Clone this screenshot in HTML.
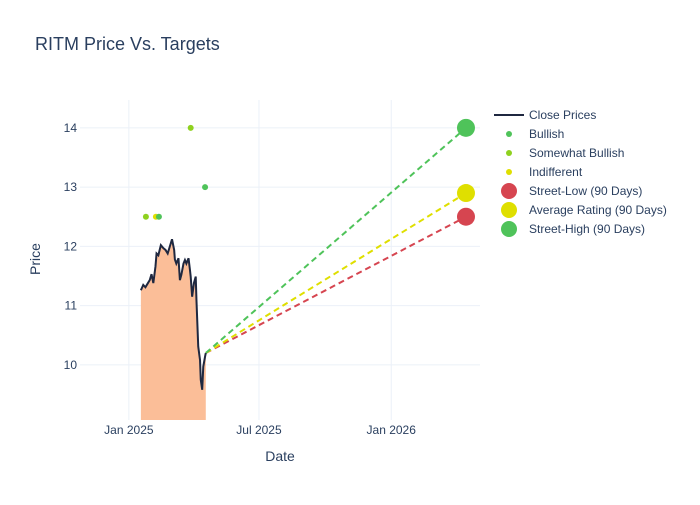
<!DOCTYPE html>
<html><head><meta charset="utf-8"><style>
body{margin:0;background:#fff;font-family:"Liberation Sans",sans-serif}
svg text{font-family:"Liberation Sans",sans-serif;fill:#2a3f5f}
</style></head><body>
<svg id="c" width="700" height="500">
<text x="35" y="50" font-size="18">RITM Price Vs. Targets</text>
</svg>
<script>
const priceDays=[16.7,20,23,26,29,31.5,34,37,38.5,41,44.5,48,51,54,57,60,63,64,66,69,71,73,76,78,80,83,85,86,88,90.5,93,94,96.5,99,100,102,103.5,106,107];
const priceVals=[11.26,11.35,11.31,11.37,11.43,11.53,11.38,11.66,11.88,11.85,12.02,11.97,11.94,11.88,12.0,12.12,11.94,11.78,11.71,11.80,11.43,11.52,11.71,11.77,11.71,11.80,11.60,11.49,11.15,11.38,11.49,11.10,10.31,10.08,9.75,9.58,9.97,10.14,10.2];
const bullishDays=[41.8,106];const bullishVals=[12.5,13];
const swBullDays=[23.7,86];const swBullVals=[12.5,14];
const indiffDays=[37.6];const indiffVals=[12.5];
const targetDay=469;
const targetLabels=["Street-Low (90 Days)","Average Rating (90 Days)","Street-High (90 Days)"];
const targetVals=[12.5,12.9,14.0];
const targetColors=["#d64550","#dfdf00","#4fc35a"];
const yTicks=[10,11,12,13,14];
const xTickDays=[0,181,365];const xTickLabels=["Jan 2025","Jul 2025","Jan 2026"];
const X0=80,X1=480,Y0=100,Y1=420,dmin=-68,dmax=488.5,vmin=9.07,vmax=14.47;
const sx=d=>X0+(d-dmin)/(dmax-dmin)*(X1-X0);
const sy=v=>Y1-(v-vmin)/(vmax-vmin)*(Y1-Y0);
const svg=document.getElementById('c');const NS="http://www.w3.org/2000/svg";
function mk(t,a,p){const e=document.createElementNS(NS,t);for(const k in a)e.setAttribute(k,a[k]);(p||svg).appendChild(e);return e;}
yTicks.forEach(v=>{const l=mk('line',{x1:X0,x2:X1,y1:sy(v),y2:sy(v),stroke:'#ebf0f8'});

const t=mk('text',{x:X0-3,y:sy(v)+4,'text-anchor':'end','font-size':12});t.textContent=v;
});
xTickDays.forEach((d,i)=>{const l=mk('line',{x1:sx(d),x2:sx(d),y1:Y0,y2:Y1,stroke:'#ebf0f8'});

const t=mk('text',{x:sx(d),y:Y1+14,'text-anchor':'middle','font-size':12});t.textContent=xTickLabels[i];
});
let pts=priceDays.map((d,i)=>sx(d)+','+sy(priceVals[i]));
const area=mk('polygon',{points:sx(priceDays[0])+','+Y1+' '+pts.join(' ')+' '+sx(priceDays[priceDays.length-1])+','+Y1,fill:'#fbbe98'});

const ld=priceDays[priceDays.length-1],lv=priceVals[priceVals.length-1];
targetVals.forEach((v,i)=>{const l=mk('line',{x1:sx(ld),y1:sy(lv),x2:sx(targetDay),y2:sy(v),stroke:targetColors[i],'stroke-width':2,'stroke-dasharray':'6,4'});
});
const pl=mk('polyline',{points:pts.join(' '),fill:'none',stroke:'#1f2840','stroke-width':2});

function dots(ds,vs,c,r,name){ds.forEach((d,i)=>{const e=mk('circle',{cx:sx(d),cy:sy(vs[i]),r:r,fill:c});
});}
dots(swBullDays,swBullVals,'#8fd11f',3,'somewhat-bullish-point');
dots(indiffDays,indiffVals,'#dfdf00',3,'indifferent-point');
dots(bullishDays,bullishVals,'#4fc35a',3,'bullish-point');
targetVals.forEach((v,i)=>{const e=mk('circle',{cx:sx(targetDay),cy:sy(v),r:9,fill:targetColors[i]});
});
const xt=mk('text',{x:280,y:461,'text-anchor':'middle','font-size':14});xt.textContent='Date';

const yt=mk('text',{x:40,y:259,'text-anchor':'middle','font-size':14,transform:'rotate(-90 40 259)'});yt.textContent='Price';

const leg=[["line","#1f2840","Close Prices"],["s","#4fc35a","Bullish"],["s","#8fd11f","Somewhat Bullish"],["s","#dfdf00","Indifferent"],["b","#d64550","Street-Low (90 Days)"],["b","#dfdf00","Average Rating (90 Days)"],["b","#4fc35a","Street-High (90 Days)"]];
leg.forEach((e,i)=>{const y=115+i*19;
if(e[0]=="line"){const l=mk('line',{x1:494,x2:524,y1:y,y2:y,stroke:e[1],'stroke-width':2});}
else{const c=mk('circle',{cx:509,cy:y,r:e[0]=="s"?3:8,fill:e[1]});}
const t=mk('text',{x:529,y:y+4,'font-size':12});t.textContent=e[2];
});
</script>
</body></html>
